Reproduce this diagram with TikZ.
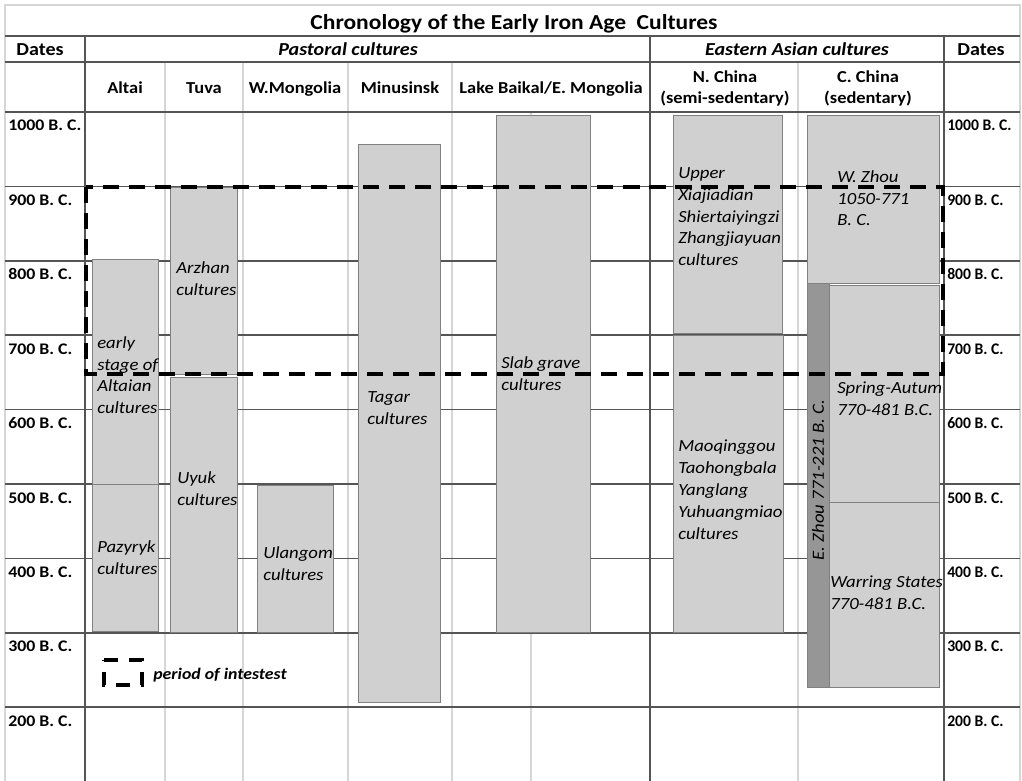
\documentclass[tikz,border=0pt]{standalone}
\usepackage{fontspec}
\setmainfont{Carlito}[FakeStretch=1.1]
\definecolor{gridd}{RGB}{85,85,85}
\definecolor{gridl}{RGB}{214,214,214}
\definecolor{boxf}{RGB}{208,208,208}
\definecolor{boxd}{RGB}{128,128,128}
\definecolor{barf}{RGB}{150,150,150}
\newcommand{\txt}{\fontsize{11.5}{15.6}\selectfont}
\newcommand{\boxtxt}{\fontsize{12.1}{15.6}\selectfont}
\begin{document}
\begin{tikzpicture}[x=0.25mm,y=-0.25mm,
    major/.style={draw=gridd,line width=1.2pt},
    minor/.style={draw=gridl,line width=0.9pt},
    cult/.style={draw=boxd,fill=boxf,line width=0.7pt},
    zhou/.style={cult,fill=barf},
    interest/.style={draw=black,line width=2.8pt,dash pattern=on 11.4pt off 7.1pt},
    lab/.style={anchor=north west,align=left,inner sep=0pt,font=\boxtxt\itshape},
    yr/.style={anchor=base west,inner sep=0pt,font=\txt\bfseries},
    hd/.style={anchor=base,inner sep=0pt,font=\fontsize{11.9}{15}\selectfont\bfseries},
    top/.style={hd,font=\fontsize{13}{15}\selectfont\bfseries},
    grp/.style={hd,font=\fontsize{13}{15}\selectfont\bfseries\itshape}
  ]
  \useasboundingbox (0,0) rectangle (1022,781);
  %% frame and column rules
  \draw[minor] (5,781) -- (5,5) -- (1020,5) -- (1020,781);
  \foreach \x in {165,243,348,452,798}
    \draw[minor] (\x,62) -- (\x,781);
  \draw[minor] (531,112) -- (531,781);
  \foreach \y in {36,62}
    \draw[major] (5,\y) -- (1020,\y);
  %% century rows, dates on both sides
  \foreach \d [count=\i from 0] in {1000,900,800,700,600,500,400,300,200} {
    \pgfmathsetmacro\rowy{112+74.4*\i}
    \draw[major] (5,\rowy) -- (1020,\rowy);
    \node[yr] (l\d) at (8,\rowy+19) {\d{} B. C.};
    \node[yr,xscale=0.88] (r\d) at (947,\rowy+19) {\d{} B. C.};
  }
  \foreach \x in {85,650,944}
    \draw[major] (\x,36) -- (\x,781);
  %% headers
  \node[hd,font=\fontsize{15.2}{17}\selectfont\bfseries] (title) at (514,30)
    {Chronology of the Early Iron Age\ \ Cultures};
  \node[top] (datesl) at (40,56) {Dates};
  \node[top] (datesr) at (981,56) {Dates};
  \node[grp] (past) at (348,56) {Pastoral cultures};
  \node[grp] (east) at (797,56) {Eastern Asian cultures};
  \foreach \x/\t [count=\k] in {125/Altai,204/Tuva,295/W.Mongolia,400/Minusinsk,551/{Lake Baikal/E. Mongolia}}
    \node[hd] (col\k) at (\x,94) {\t};
  \node[hd,anchor=center,align=center] (nchina) at (725,88) {N. China\\(semi-sedentary)};
  \node[hd,anchor=center,align=center] (cchina) at (868,88) {C. China\\(sedentary)};
  %% culture blocks
  \foreach \a/\b/\c/\d in {92/259/158/484,92/484/158/631,170/187/237/374,170/377/237/632,
      257/485/333/632,358/144/440/702,496/115/590/632,673/115/782/333,673/335/783/632,
      807/115/939/283,829/285/939/502,829/502/939/687}
    \draw[cult] (\a,\b) rectangle (\c,\d);
  \draw[zhou] (807,283) rectangle (829,687);
  %% block labels
  \node[lab] (altai) at (97,336) {early\\stage of\\Altaian\\cultures};
  \node[lab] (pazyryk) at (97,540) {Pazyryk\\cultures};
  \node[lab] (arzhan) at (176,261) {Arzhan\\cultures};
  \node[lab] (uyuk) at (177,471) {Uyuk\\cultures};
  \node[lab] (ulangom) at (263,546) {Ulangom\\cultures};
  \node[lab] (tagar) at (367,391) {Tagar\\cultures};
  \node[lab] (slab) at (501,356) {Slab grave\\cultures};
  \node[lab] (upper) at (678,167) {Upper\\Xiajiadian\\Shiertaiyingzi\\Zhangjiayuan\\cultures};
  \node[lab] (maoq) at (678,440) {Maoqinggou\\Taohongbala\\Yanglang\\Yuhuangmiao\\cultures};
  \node[lab] (wzhou) at (837,170) {W. Zhou\\1050-771\\B. C.};
  \node[lab] (spring) at (837,382) {Spring-Autum\\770-481 B.C.};
  \node[lab] (warring) at (830,576) {Warring States\\770-481 B.C.};
  \node[lab,anchor=center,rotate=90] (ezhou) at (818,480) {E. Zhou 771-221 B. C.};
  %% period of interest and its key
  \draw[interest] (86,187) rectangle (943,374);
  \draw[interest,line width=2.4pt,dash pattern=on 9.96pt off 7.82pt]
    (104,660) -- (142,660) -- (142,685) -- (104,685) -- cycle;
  \node[grp,font=\txt\bfseries\itshape,anchor=base west] (key) at (153,679) {period of intestest};
\end{tikzpicture}
\end{document}
